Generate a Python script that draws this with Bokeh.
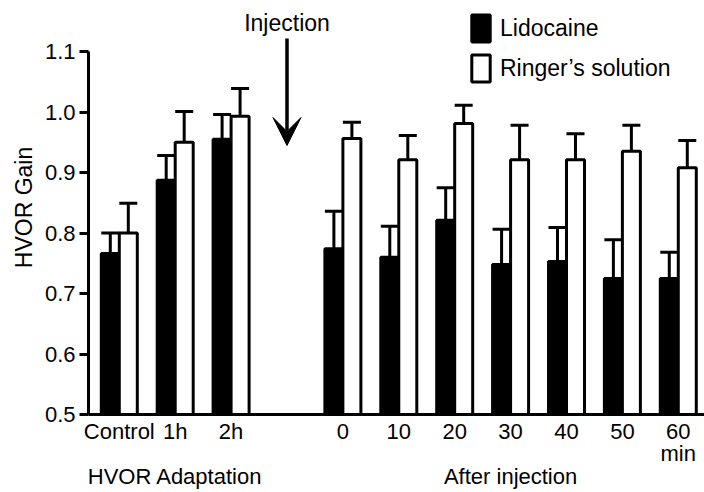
import numpy as np
from bokeh.plotting import figure
from bokeh.models import (Range1d, FixedTicker, Legend, LegendItem, Label, Arrow,
                          VeeHead, ColumnDataSource, PrintfTickFormatter)
from bokeh.embed import file_html
from bokeh.resources import INLINE

# ---- data ----
adaptation_labels = ["Control", "1h", "2h"]
after_labels = ["0", "10", "20", "30", "40", "50", "60\nmin"]
group_captions = ["HVOR Adaptation", "After injection"]
lidocaine = [0.766, 0.887, 0.955, 0.774, 0.760, 0.821, 0.748, 0.753, 0.725, 0.725]
lidocaine_sem = [0.034, 0.041, 0.041, 0.062, 0.051, 0.054, 0.058, 0.056, 0.064, 0.043]
ringer = [0.800, 0.950, 0.993, 0.956, 0.921, 0.981, 0.921, 0.921, 0.935, 0.908]
ringer_sem = [0.049, 0.051, 0.046, 0.027, 0.040, 0.030, 0.057, 0.043, 0.043, 0.045]
y_ticks = [0.5, 0.6, 0.7, 0.8, 0.9, 1.0, 1.1]

FONT = "Liberation Sans"

# slot positions: adaptation groups, one empty slot (injection), after-injection groups
n_a = len(adaptation_labels)
groups = [list(range(n_a)), [n_a + 1 + i for i in range(len(after_labels))]]
pos = np.array(groups[0] + groups[1], dtype=float)
labels = list(adaptation_labels + after_labels)
# group caption goes under the middle tick of each group (third text line)
for g, cap in zip(groups, group_captions):
    mid = g[len(g) // 2]
    k = list(pos).index(float(mid))
    lines = labels[k].split("\n")
    while len(lines) < 2:
        lines.append("\u00a0")
    labels[k] = "\n".join(lines + [cap])

bw = 0.322
lid = np.array(lidocaine)
lid_e = np.array(lidocaine_sem)
rin = np.array(ringer)
rin_e = np.array(ringer_sem)

p = figure(width=704, height=492, output_backend="svg", toolbar_location=None,
           x_range=Range1d(-0.551, 10.469), y_range=Range1d(0.5, 1.1843),
           min_border_left=88, min_border_right=0, min_border_top=0, min_border_bottom=78,
           title=None)
p.outline_line_color = None
p.grid.visible = False
p.background_fill_color = "white"

src_l = ColumnDataSource(dict(x=pos - bw / 2, top=lid, etop=lid + lid_e,
                              c0=pos - bw, c1=pos))
src_r = ColumnDataSource(dict(x=pos + bw / 2, top=rin, etop=rin + rin_e,
                              c0=pos, c1=pos + bw))

rb = p.vbar(x="x", top="top", bottom=0.5, width=bw, source=src_l,
            fill_color="black", line_color="black", line_width=3)
rw = p.vbar(x="x", top="top", bottom=0.5, width=bw, source=src_r,
            fill_color="white", line_color="black", line_width=3)

for s in (src_l, src_r):
    p.segment(x0="x", y0="top", x1="x", y1="etop", source=s, line_color="black", line_width=3)
    p.segment(x0="c0", y0="etop", x1="c1", y1="etop", source=s, line_color="black", line_width=3)

# axes
xa = p.xaxis[0]
xa.ticker = FixedTicker(ticks=list(pos))
xa.major_label_overrides = {float(k): v for k, v in zip(pos, labels)}
xa.major_tick_line_color = None
xa.minor_tick_line_color = None
xa.axis_line_width = 3
xa.major_label_text_font = FONT
xa.major_label_text_font_size = "22px"
xa.major_label_text_line_height = 0.9
xa.major_label_text_color = "black"
xa.major_label_standoff = -2

ya = p.yaxis[0]
ya.bounds = (y_ticks[0], y_ticks[-1])
ya.ticker = FixedTicker(ticks=y_ticks)
ya.formatter = PrintfTickFormatter(format="%.1f")
ya.major_tick_out = 9
ya.major_tick_in = 0
ya.major_tick_line_width = 3
ya.minor_tick_line_color = None
ya.axis_line_width = 3
ya.major_label_text_font = FONT
ya.major_label_text_font_size = "22px"
ya.major_label_text_color = "black"
ya.major_label_standoff = 4
ya.axis_label = "HVOR Gain"
ya.axis_label_text_font = FONT
ya.axis_label_text_font_size = "23px"
ya.axis_label_text_font_style = "normal"
ya.axis_label_text_color = "black"
ya.axis_label_standoff = 5

# legend
legend = Legend(items=[LegendItem(label="Lidocaine", renderers=[rb]),
                       LegendItem(label="Ringer\u2019s solution", renderers=[rw])],
                location=(381, 329), glyph_width=23, glyph_height=34, spacing=6,
                padding=0, margin=0, label_standoff=8,
                label_text_font=FONT, label_text_font_size="23px",
                label_text_color="black",
                border_line_color=None, background_fill_alpha=0)
p.add_layout(legend)

# injection arrow + text
x_inj = (pos[n_a - 1] + pos[n_a]) / 2
p.add_layout(Arrow(end=VeeHead(size=28, fill_color="black", line_color="black"),
                   x_start=x_inj, y_start=1.1215, x_end=x_inj, y_end=0.9446,
                   line_width=3.5, line_color="black"))
p.add_layout(Label(x=x_inj, y=1.1463, text="Injection", text_align="center",
                   text_baseline="alphabetic", text_font=FONT, text_font_size="23px",
                   text_color="black"))

open("out.html", "w").write(file_html(p, INLINE))
